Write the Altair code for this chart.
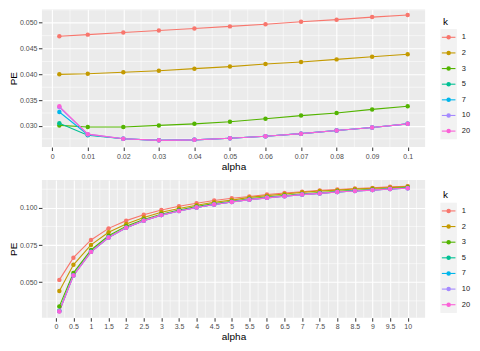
import altair as alt
import pandas as pd

k_labels = ["1", "2", "3", "5", "7", "10", "20"]
k_colors = ["#F8766D", "#C49A00", "#53B400", "#00C094", "#00B6EB", "#A58AFF", "#FB61D7"]

# ---- top panel (small alpha) ----
top_alpha = [0.002, 0.01, 0.02, 0.03, 0.04, 0.05, 0.06, 0.07, 0.08, 0.09, 0.1]
top_k1 = [0.0474, 0.0477, 0.0481, 0.0485, 0.0489, 0.0493, 0.0497, 0.0502, 0.0506, 0.0511, 0.0515]
top_k2 = [0.0400, 0.0401, 0.0404, 0.0407, 0.0411, 0.0415, 0.0420, 0.0424, 0.0429, 0.0434, 0.0439]
top_k3 = [0.0301, 0.0298, 0.0298, 0.0301, 0.0304, 0.0308, 0.0314, 0.0320, 0.0325, 0.0332, 0.0338]
top_k5 = [0.0305, 0.0282, 0.0275, 0.0272, 0.0273, 0.0276, 0.0280, 0.0285, 0.0291, 0.0297, 0.0304]
top_k7 = [0.0327, 0.0283, 0.0275, 0.0272, 0.0273, 0.0276, 0.0280, 0.0285, 0.0291, 0.0297, 0.0304]
top_k10 = [0.0336, 0.0284, 0.0275, 0.0272, 0.0273, 0.0276, 0.0280, 0.0285, 0.0291, 0.0297, 0.0304]
top_k20 = [0.0338, 0.0284, 0.0275, 0.0272, 0.0273, 0.0276, 0.0280, 0.0285, 0.0291, 0.0297, 0.0304]

top_x_ticks = [0, 0.01, 0.02, 0.03, 0.04, 0.05, 0.06, 0.07, 0.08, 0.09, 0.1]
top_x_minor = [0.005, 0.015, 0.025, 0.035, 0.045, 0.055, 0.065, 0.075, 0.085, 0.095]
top_y_ticks = [0.030, 0.035, 0.040, 0.045, 0.050]
top_y_minor = [0.0275, 0.0325, 0.0375, 0.0425, 0.0475, 0.0525]

# ---- bottom panel (large alpha) ----
bot_alpha = [0.1, 0.5, 1, 1.5, 2, 2.5, 3, 3.5, 4, 4.5, 5, 5.5, 6, 6.5, 7, 7.5, 8, 8.5, 9, 9.5, 10]
bot_k1 = [0.0516, 0.0665, 0.0784, 0.0862, 0.0914, 0.0953, 0.0985, 0.1011, 0.1031, 0.1049, 0.1064,
          0.1076, 0.1089, 0.1100, 0.1108, 0.1117, 0.1123, 0.1130, 0.1134, 0.1141, 0.1145]
bot_k2 = [0.0442, 0.0617, 0.0751, 0.0836, 0.0892, 0.0935, 0.0970, 0.0996, 0.1017, 0.1037, 0.1052,
          0.1070, 0.1082, 0.1093, 0.1104, 0.1113, 0.1119, 0.1126, 0.1132, 0.1136, 0.1143]
bot_k3 = [0.0338, 0.0563, 0.0717, 0.0812, 0.0877, 0.0922, 0.0957, 0.0985, 0.1009, 0.1028, 0.1043,
          0.1060, 0.1072, 0.1083, 0.1093, 0.1102, 0.1110, 0.1117, 0.1123, 0.1129, 0.1136]
bot_k5 = [0.0308, 0.0547, 0.0705, 0.0802, 0.0867, 0.0915, 0.0952, 0.0980, 0.1003, 0.1023, 0.1040,
          0.1056, 0.1068, 0.1079, 0.1090, 0.1098, 0.1107, 0.1114, 0.1120, 0.1127, 0.1133]
bot_k7 = [0.0306, 0.0546, 0.0705, 0.0801, 0.0866, 0.0914, 0.0951, 0.0979, 0.1002, 0.1022, 0.1039,
          0.1055, 0.1067, 0.1078, 0.1089, 0.1097, 0.1106, 0.1113, 0.1119, 0.1126, 0.1132]
bot_k10 = [0.0305, 0.0545, 0.0704, 0.0801, 0.0866, 0.0914, 0.0951, 0.0979, 0.1002, 0.1022, 0.1039,
           0.1055, 0.1067, 0.1078, 0.1089, 0.1097, 0.1106, 0.1113, 0.1119, 0.1126, 0.1132]
bot_k20 = [0.0304, 0.0545, 0.0704, 0.0801, 0.0866, 0.0914, 0.0951, 0.0979, 0.1002, 0.1022, 0.1039,
           0.1055, 0.1067, 0.1078, 0.1089, 0.1097, 0.1106, 0.1113, 0.1119, 0.1126, 0.1132]

bot_x_ticks = [0, 0.5, 1, 1.5, 2, 2.5, 3, 3.5, 4, 4.5, 5, 5.5, 6, 6.5, 7, 7.5, 8, 8.5, 9, 9.5, 10]
bot_x_minor = [-0.25, 0.25, 0.75, 1.25, 1.75, 2.25, 2.75, 3.25, 3.75, 4.25, 4.75, 5.25, 5.75,
               6.25, 6.75, 7.25, 7.75, 8.25, 8.75, 9.25, 9.75, 10.25]
bot_y_ticks = [0.050, 0.075, 0.100]
bot_y_minor = [0.0375, 0.0625, 0.0875, 0.1125]


def long_df(alpha, series):
    rows = []
    for k, vals in zip(k_labels, series):
        for a, v in zip(alpha, vals):
            rows.append({"alpha": a, "PE": v, "k": k})
    return pd.DataFrame(rows)


top_df = long_df(top_alpha, [top_k1, top_k2, top_k3, top_k5, top_k7, top_k10, top_k20])
bot_df = long_df(bot_alpha, [bot_k1, bot_k2, bot_k3, bot_k5, bot_k7, bot_k10, bot_k20])

color = alt.Color("k:N", scale=alt.Scale(domain=k_labels, range=k_colors), legend=None)

PANEL_W = 384
PANEL_H = 138


def panel(df, xdom, xticks, xminor, ydom, yticks, yminor, yfmt):
    xs = alt.Scale(domain=xdom, nice=False, zero=False)
    ys = alt.Scale(domain=ydom, nice=False, zero=False)
    xa = alt.Axis(values=xticks, format="~g", title="alpha")
    ya = alt.Axis(values=yticks, format=yfmt, title="PE")
    xenc = alt.X("alpha:Q", scale=xs, axis=xa)
    yenc = alt.Y("PE:Q", scale=ys, axis=ya)
    vminor = alt.Chart(pd.DataFrame({"alpha": xminor})).mark_rule(
        color="white", strokeWidth=0.55).encode(x=xenc)
    hminor = alt.Chart(pd.DataFrame({"PE": yminor})).mark_rule(
        color="white", strokeWidth=0.55).encode(y=yenc)
    base = alt.Chart(df).encode(x=xenc, y=yenc, color=color)
    lines = base.mark_line(strokeWidth=1.1).encode(detail="k:N")
    pts = base.mark_circle(size=20, opacity=1)
    return alt.layer(vminor, hminor, lines, pts).properties(
        width=PANEL_W, height=PANEL_H,
        view=alt.ViewBackground(fill="#EBEBEB", stroke=None))


def legend(y0, y1, ytitle):
    ldf = pd.DataFrame({"k": k_labels})
    yenc = alt.Y("k:N", scale=alt.Scale(type="point", domain=k_labels, range=[y0, y1], padding=0),
                 axis=None)
    base = alt.Chart(ldf).encode(y=yenc)
    bg = base.mark_square(size=272, color="#F2F2F2", opacity=1).encode(x=alt.value(12.6))
    ln = base.mark_rule(strokeWidth=1.1).encode(x=alt.value(5.8), x2=alt.value(19.4), color=color)
    pt = base.mark_circle(size=20, opacity=1).encode(x=alt.value(12.6), color=color)
    tx = base.mark_text(align="left", baseline="middle", fontSize=7.5, color="#1A1A1A",
                        font="Liberation Sans").encode(x=alt.value(25.7), text="k:N")
    ttl = alt.Chart(pd.DataFrame({"t": ["k"]})).mark_text(
        align="left", baseline="middle", fontSize=10, color="black", fontWeight="normal",
        font="Liberation Sans").encode(x=alt.value(7), y=alt.value(ytitle), text="t:N")
    return alt.layer(bg, ln, pt, tx, ttl).properties(
        width=36, height=PANEL_H, view=alt.ViewBackground(fill=None, stroke=None))


top = panel(top_df, [-0.0029, 0.1049], top_x_ticks, top_x_minor,
            [0.0259, 0.0526], top_y_ticks, top_y_minor, ".3f")
bot = panel(bot_df, [-0.395, 10.495], bot_x_ticks, bot_x_minor,
            [0.0262, 0.1187], bot_y_ticks, bot_y_minor, ".3f")

row1 = alt.hconcat(top, legend(28, 122, 12.3), spacing=10)
row2 = alt.hconcat(bot, legend(31, 125, 15), spacing=10)

chart = alt.vconcat(row1, row2, spacing=8).properties(
    padding={"left": 0, "top": 0, "right": 0, "bottom": 0}
).configure_view(stroke=None).configure_axis(
    grid=True, gridColor="white", gridWidth=1.1, domain=False,
    tickColor="#333333", tickSize=3.5, tickWidth=1,
    labelColor="#4D4D4D", labelFontSize=7, labelFont="Liberation Sans",
    labelPadding=1.5,
    titleColor="black", titleFontSize=10, titleFont="Liberation Sans",
    titleFontWeight="normal", titlePadding=2,
).configure_axisY(labelPadding=1.5, titlePadding=1)

chart.save("out.html", embed_options={"renderer": "svg", "actions": False})
